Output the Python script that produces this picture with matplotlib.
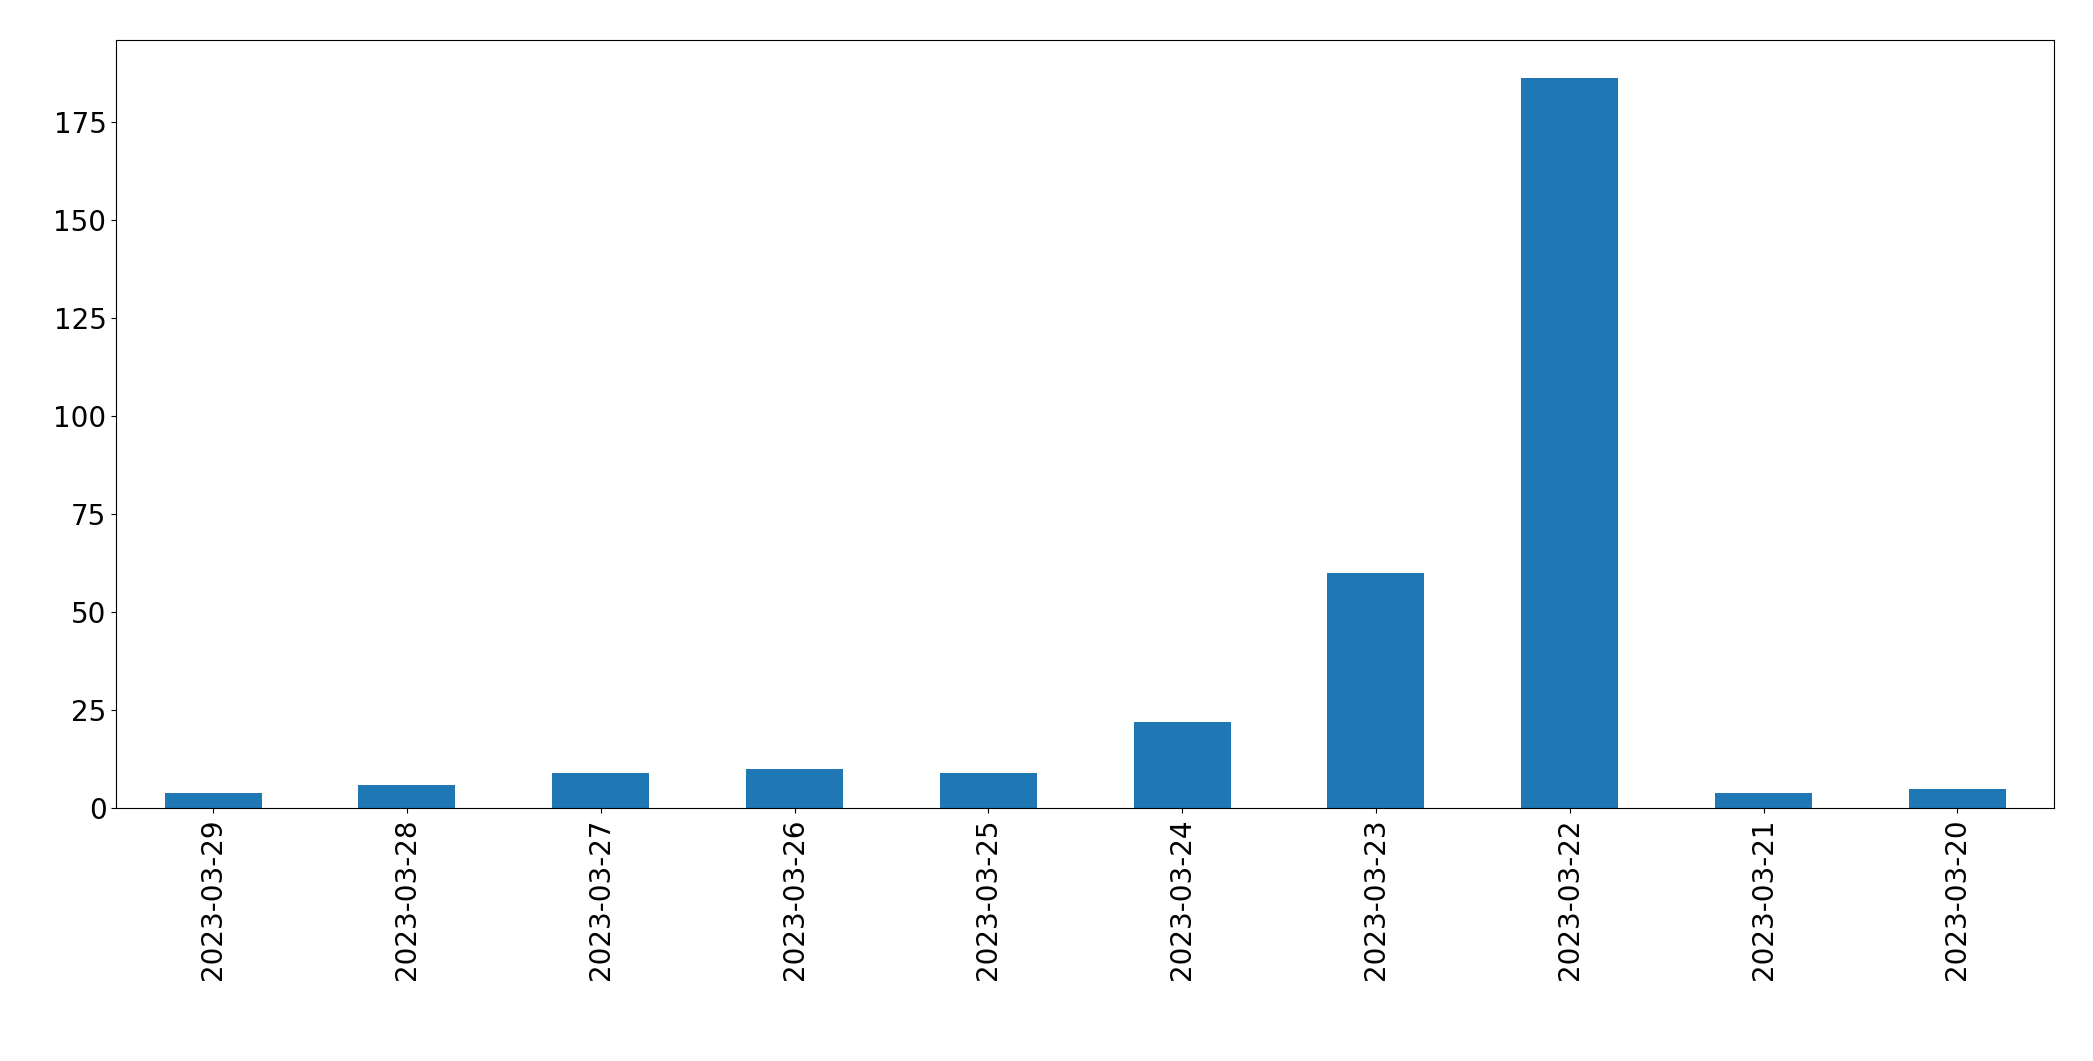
import matplotlib
matplotlib.use("Agg")
import matplotlib.pyplot as plt

dates = ["2023-03-29","2023-03-28","2023-03-27","2023-03-26","2023-03-25",
         "2023-03-24","2023-03-23","2023-03-22","2023-03-21","2023-03-20"]
counts = [4, 6, 9, 10, 9, 22, 60, 186, 4, 5]

fig = plt.figure(figsize=(20.93, 10.61), dpi=100)
ax = fig.add_axes([0.0555, 0.238, 0.926, 0.724])
x = range(len(dates))
ax.bar(x, counts, width=0.5, color="#1f77b4")
ax.set_xlim(-0.5, len(dates) - 0.5)
ax.set_ylim(0, 195.7)
ax.set_xticks(list(x))
ax.set_xticklabels(dates, rotation=90)
ax.tick_params(labelsize=20)
fig.savefig("out.png", dpi=100)
